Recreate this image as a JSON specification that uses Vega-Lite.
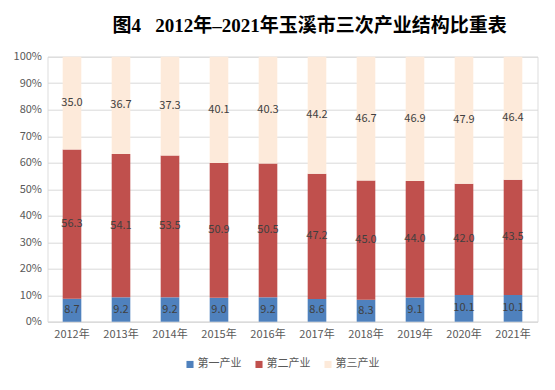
{
  "$schema": "https://vega.github.io/schema/vega-lite/v6.json",
  "width": 490,
  "height": 265,
  "autosize": {"type": "none"},
  "padding": {"left": 47.5, "top": 56.7, "right": 17.5, "bottom": 68.3},
  "background": "white",
  "title": {
    "text": "图4\u00a0\u00a0\u00a02012年–2021年玉溪市三次产业结构比重表",
    "font": "Liberation Serif, Noto Sans CJK SC",
    "fontSize": 19,
    "fontWeight": "bold",
    "color": "#000000",
    "anchor": "middle",
    "dx": 17,
    "offset": 15
  },
  "data": {
    "values": [
      {"year": "2012年", "type": "第一产业", "o": 1, "value": 8.7},
      {"year": "2012年", "type": "第二产业", "o": 2, "value": 56.3},
      {"year": "2012年", "type": "第三产业", "o": 3, "value": 35.0},
      {"year": "2013年", "type": "第一产业", "o": 1, "value": 9.2},
      {"year": "2013年", "type": "第二产业", "o": 2, "value": 54.1},
      {"year": "2013年", "type": "第三产业", "o": 3, "value": 36.7},
      {"year": "2014年", "type": "第一产业", "o": 1, "value": 9.2},
      {"year": "2014年", "type": "第二产业", "o": 2, "value": 53.5},
      {"year": "2014年", "type": "第三产业", "o": 3, "value": 37.3},
      {"year": "2015年", "type": "第一产业", "o": 1, "value": 9.0},
      {"year": "2015年", "type": "第二产业", "o": 2, "value": 50.9},
      {"year": "2015年", "type": "第三产业", "o": 3, "value": 40.1},
      {"year": "2016年", "type": "第一产业", "o": 1, "value": 9.2},
      {"year": "2016年", "type": "第二产业", "o": 2, "value": 50.5},
      {"year": "2016年", "type": "第三产业", "o": 3, "value": 40.3},
      {"year": "2017年", "type": "第一产业", "o": 1, "value": 8.6},
      {"year": "2017年", "type": "第二产业", "o": 2, "value": 47.2},
      {"year": "2017年", "type": "第三产业", "o": 3, "value": 44.2},
      {"year": "2018年", "type": "第一产业", "o": 1, "value": 8.3},
      {"year": "2018年", "type": "第二产业", "o": 2, "value": 45.0},
      {"year": "2018年", "type": "第三产业", "o": 3, "value": 46.7},
      {"year": "2019年", "type": "第一产业", "o": 1, "value": 9.1},
      {"year": "2019年", "type": "第二产业", "o": 2, "value": 44.0},
      {"year": "2019年", "type": "第三产业", "o": 3, "value": 46.9},
      {"year": "2020年", "type": "第一产业", "o": 1, "value": 10.1},
      {"year": "2020年", "type": "第二产业", "o": 2, "value": 42.0},
      {"year": "2020年", "type": "第三产业", "o": 3, "value": 47.9},
      {"year": "2021年", "type": "第一产业", "o": 1, "value": 10.1},
      {"year": "2021年", "type": "第二产业", "o": 2, "value": 43.5},
      {"year": "2021年", "type": "第三产业", "o": 3, "value": 46.4}
    ]
  },
  "encoding": {
    "x": {
      "field": "year",
      "type": "nominal",
      "scale": {"paddingInner": 0.62, "paddingOuter": 0.31},
      "axis": {
        "title": null,
        "labelAngle": 0,
        "ticks": false,
        "domainColor": "#D9D9D9",
        "labelColor": "#595959",
        "labelFont": "Noto Sans CJK SC",
        "labelFontSize": 11,
        "labelPadding": 7
      }
    },
    "order": {"field": "o", "type": "quantitative"}
  },
  "resolve": {"axis": {"y": "independent"}},
  "layer": [
    {
      "mark": {"type": "bar"},
      "encoding": {
        "y": {
          "field": "value",
          "type": "quantitative",
          "stack": "zero",
          "scale": {"domain": [0, 100], "nice": false},
          "axis": {
            "title": null,
            "values": [0, 10, 20, 30, 40, 50, 60, 70, 80, 90, 100],
            "labelOverlap": false,
            "labelExpr": "datum.value + '%'",
            "domain": false,
            "ticks": false,
            "gridColor": "#D9D9D9",
            "labelColor": "#595959",
            "labelFont": "Noto Sans CJK SC",
            "labelFontSize": 11,
            "labelPadding": 6
          }
        },
        "color": {
          "field": "type",
          "type": "nominal",
          "sort": ["第一产业", "第二产业", "第三产业"],
          "scale": {
            "domain": ["第一产业", "第二产业", "第三产业"],
            "range": ["#4F81BD", "#C0504D", "#FDEADA"]
          },
          "legend": {
            "title": null,
            "orient": "none",
            "direction": "horizontal",
            "legendX": 137,
            "legendY": 302,
            "symbolType": "square",
            "symbolSize": 50,
            "symbolStrokeWidth": 0,
            "labelFont": "Noto Sans CJK SC",
            "labelFontSize": 11,
            "labelColor": "#595959",
            "columnPadding": 12,
            "labelOffset": 2
          }
        }
      }
    },
    {
      "mark": {"type": "text", "font": "Noto Sans CJK SC", "fontSize": 11, "color": "#404040"},
      "encoding": {
        "y": {
          "field": "value",
          "type": "quantitative",
          "stack": "zero",
          "bandPosition": 0.5,
          "axis": null
        },
        "detail": {"field": "type"},
        "text": {"field": "value", "type": "quantitative", "format": ".1f"}
      }
    }
  ]
}
